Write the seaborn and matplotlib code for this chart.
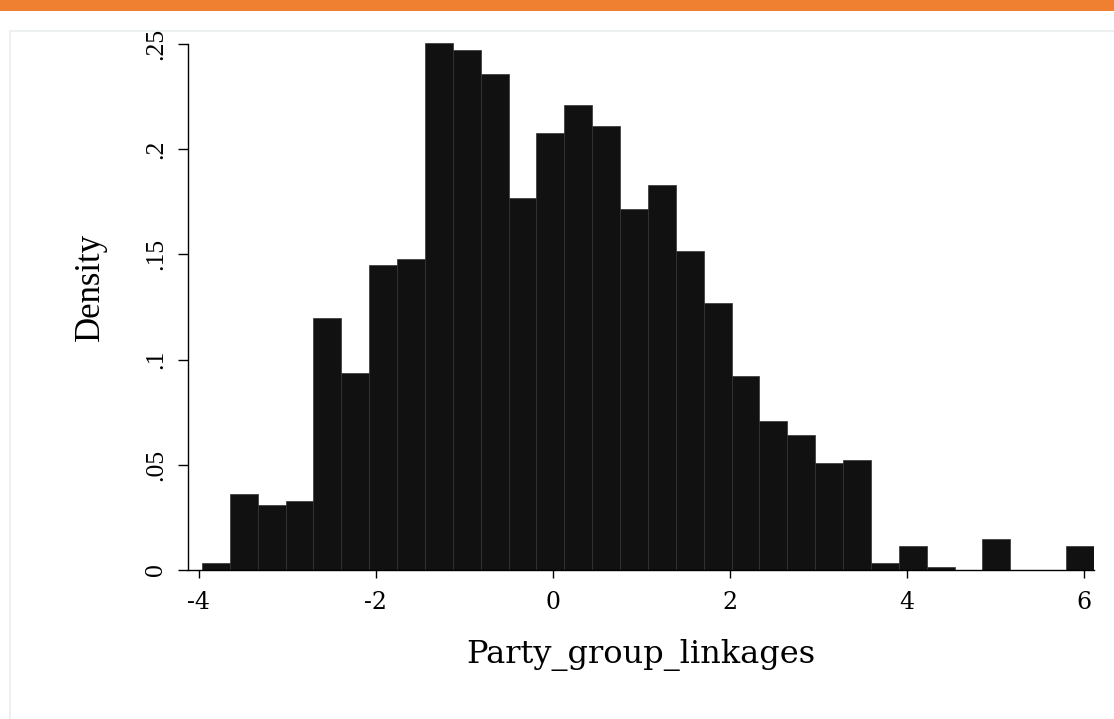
import numpy as np
import pandas as pd
import matplotlib
matplotlib.use("Agg")
import matplotlib.pyplot as plt
import seaborn as sns
from matplotlib.patches import Rectangle

# density per bin (32 equal-width bins)
density = [0.0032, 0.036, 0.031, 0.0327, 0.120, 0.0937, 0.145, 0.148,
           0.2505, 0.247, 0.236, 0.1766, 0.2078, 0.2212, 0.2112, 0.1715,
           0.183, 0.1515, 0.1268, 0.092, 0.0708, 0.0642, 0.051, 0.0524,
           0.0033, 0.0115, 0.0014, 0.0, 0.0146, 0.0, 0.0, 0.0115]
x_min = -3.966
x_max = 6.114

x_ticks = [-4, -2, 0, 2, 4, 6]
x_ticklabels = ["-4", "-2", "0", "2", "4", "6"]
y_ticks = [0, 0.05, 0.1, 0.15, 0.2, 0.25]
y_ticklabels = ["0", ".05", ".1", ".15", ".2", ".25"]

x_title = "Party_group_linkages"
y_title = "Density"

edges = np.linspace(x_min, x_max, len(density) + 1)
centers = (edges[:-1] + edges[1:]) / 2
df = pd.DataFrame({"x": centers, "w": density})

sns.set_style("white")
plt.rcParams["text.color"] = "black"
plt.rcParams["axes.labelcolor"] = "black"
plt.rcParams["xtick.color"] = "black"
plt.rcParams["ytick.color"] = "black"

fig = plt.figure(figsize=(11.14, 7.19), dpi=100)
W, H = 1114, 719

# orange strip and faint panel border (Stata graph window look)
fig.patches.append(Rectangle((0, 1 - 11 / H), 1, 11 / H, transform=fig.transFigure,
                             facecolor="#ef7f31", edgecolor="none", zorder=-1))
fig.patches.append(Rectangle((10 / W, -0.01), 1, 1 - 31 / H + 0.01, transform=fig.transFigure,
                             facecolor="none", edgecolor="#e9edef", linewidth=1.2, zorder=-1))

ax = fig.add_axes([188 / W, (H - 570) / H, (1094 - 188) / W, (570 - 43) / H])
ax.patch.set_alpha(0)

sns.histplot(data=df, x="x", weights="w", bins=list(edges), stat="count", ax=ax,
             color="#111111", edgecolor="#333333", linewidth=0.5, alpha=1)

ax.set_xlim(-4.124, x_max)
ax.set_ylim(0, 0.2505)

for s in ["top", "right"]:
    ax.spines[s].set_visible(False)
for s in ["left", "bottom"]:
    ax.spines[s].set_color("black")
    ax.spines[s].set_linewidth(1.0)
ax.spines["left"].set_bounds(0, 0.25)

ax.set_xticks(x_ticks)
ax.set_xticklabels(x_ticklabels, fontfamily="DejaVu Serif", fontsize=17)
ax.set_yticks(y_ticks)
ax.set_yticklabels(y_ticklabels, fontfamily="Liberation Serif", fontsize=18.5,
                   rotation=90, va="center")
ax.tick_params(axis="x", direction="out", length=6, width=1, color="black", pad=9, bottom=True)
ax.tick_params(axis="y", direction="out", length=7.2, width=1, color="black", pad=8, left=True)

ax.set_xlabel(x_title, fontfamily="DejaVu Serif", fontsize=23)
ax.set_ylabel(y_title, fontfamily="Liberation Serif", fontsize=25)
ax.xaxis.set_label_coords(0.5, -0.161)
ax.xaxis.label.set_va("center")
ax.yaxis.set_label_coords(-0.108, 0.538)
ax.yaxis.label.set_va("center")

fig.savefig("out.png", dpi=100)
